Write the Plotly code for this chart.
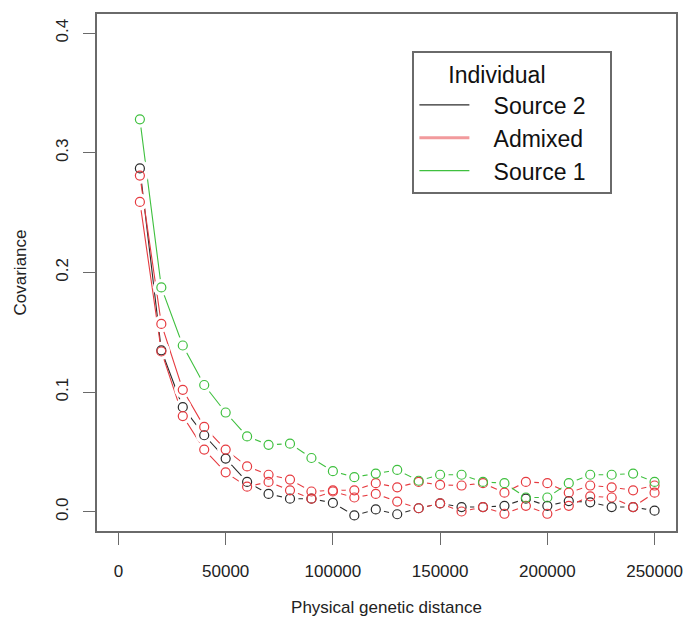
import plotly.graph_objects as go

# Physical distance between marker pairs (bp)
distance = [10000, 20000, 30000, 40000, 50000, 60000, 70000, 80000, 90000, 100000,
            110000, 120000, 130000, 140000, 150000, 160000, 170000, 180000, 190000,
            200000, 210000, 220000, 230000, 240000, 250000]

# Covariance per individual
source1 = [0.328, 0.1875, 0.139, 0.106, 0.083, 0.063, 0.056, 0.057, 0.045, 0.034,
           0.029, 0.032, 0.035, 0.026, 0.031, 0.031, 0.025, 0.024, 0.012, 0.012,
           0.024, 0.031, 0.031, 0.032, 0.025]
source2 = [0.287, 0.135, 0.0875, 0.064, 0.0445, 0.025, 0.015, 0.011, 0.011, 0.0075,
           -0.003, 0.002, -0.002, 0.003, 0.007, 0.004, 0.004, 0.005, 0.011, 0.005,
           0.009, 0.008, 0.004, 0.004, 0.001]
admixed_a = [0.281, 0.157, 0.102, 0.071, 0.052, 0.038, 0.031, 0.027, 0.017, 0.018,
             0.018, 0.024, 0.0205, 0.025, 0.0225, 0.022, 0.024, 0.016, 0.025, 0.024,
             0.016, 0.022, 0.0205, 0.018, 0.022]
admixed_b = [0.259, 0.134, 0.080, 0.052, 0.033, 0.021, 0.025, 0.018, 0.011, 0.017,
             0.012, 0.015, 0.0086, 0.003, 0.007, 0.0003, 0.004, -0.0016, 0.005, -0.0016,
             0.005, 0.013, 0.012, 0.004, 0.016]

x_ticks = [0, 50000, 100000, 150000, 200000, 250000]
x_tick_labels = ["0", "50000", "100000", "150000", "200000", "250000"]
y_ticks = [0.0, 0.1, 0.2, 0.3, 0.4]
y_tick_labels = ["0.0", "0.1", "0.2", "0.3", "0.4"]

legend_names = ["Source 2", "Admixed", "Source 1"]

BLACK = "#2b2b2b"
RED = "#e63b40"
GREEN = "#3fc03f"
FONT = "Liberation Sans, Arial, sans-serif"
NBSP = "\u00a0"

series = [
    (source2, BLACK),
    (admixed_a, RED),
    (admixed_b, RED),
    (source1, GREEN),
]

fig = go.Figure()

# connecting lines (type "b" look: gaps are opened around each point below)
for ys, col in series:
    fig.add_trace(go.Scatter(x=distance, y=ys, mode="lines",
                             line=dict(color=col, width=1.1),
                             showlegend=False, hoverinfo="skip"))

# white discs that open a gap in the lines around each point
for ys, col in series:
    fig.add_trace(go.Scatter(x=distance, y=ys, mode="markers",
                             marker=dict(symbol="circle", size=17, color="white",
                                         line=dict(width=0)),
                             showlegend=False, hoverinfo="skip"))

# open-circle points
for ys, col in series:
    fig.add_trace(go.Scatter(x=distance, y=ys, mode="markers",
                             marker=dict(symbol="circle-open", size=9, color=col,
                                         line=dict(width=1.2, color=col)),
                             showlegend=False))

# legend entries
legend_styles = [(BLACK, 1.2), ("#f29a9c", 3), (GREEN, 1.2)]
for name, (col, w) in zip(legend_names, legend_styles):
    fig.add_trace(go.Scatter(x=[None], y=[None], mode="lines",
                             name=NBSP * 3 + name + NBSP * 3,
                             line=dict(color=col, width=w)))

axis_common = dict(
    showline=True, linecolor="#6a6a6a", linewidth=1.6, mirror=True,
    ticks="outside", ticklen=12, tickwidth=1.2, tickcolor="#6a6a6a",
    showgrid=False, zeroline=False,
    tickfont=dict(family=FONT, size=17, color="#222222"),
)

fig.update_xaxes(
    range=[-10000, 260000], tickvals=x_ticks, ticktext=x_tick_labels,
    ticklabelstandoff=12,
    title=dict(text="Physical genetic distance", standoff=21,
               font=dict(family=FONT, size=17, color="#222222")),
    **axis_common,
)
fig.update_yaxes(
    range=[-0.016, 0.416], tickvals=y_ticks, ticktext=y_tick_labels,
    tickangle=-90, ticklabelstandoff=8,
    title=dict(text="Covariance", standoff=22,
               font=dict(family=FONT, size=17, color="#222222")),
    **axis_common,
)

fig.update_layout(
    width=691, height=622,
    margin=dict(l=97, r=8, t=14, b=83),
    paper_bgcolor="white", plot_bgcolor="white",
    font=dict(family=FONT),
    legend=dict(
        x=0.5447, y=0.9276, xanchor="left", yanchor="top",
        bgcolor="white", bordercolor="#6a6a6a", borderwidth=2,
        font=dict(family=FONT, size=23, color="#111111"),
        title=dict(text=NBSP * 5 + "Individual",
                   font=dict(family=FONT, size=23, color="#111111")),
        itemwidth=50, tracegroupgap=0,
    ),
)

fig.write_html("out.html")
